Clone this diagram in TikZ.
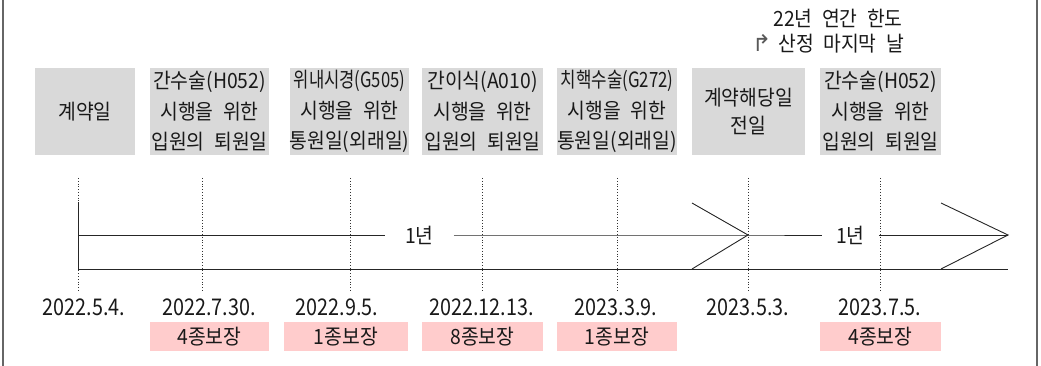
\documentclass[tikz,border=0pt]{standalone}
\usepackage{fontspec}
\newfontfamily\cjk[FakeStretch=0.92,WordSpace=2.2]{Noto Sans CJK KR}
\newfontfamily\cjkd[FakeStretch=0.86]{Noto Sans CJK KR}
\newfontfamily\symf{DejaVu Sans}
\definecolor{boxgray}{RGB}{217,217,217}
\definecolor{boxpink}{RGB}{255,204,204}
\definecolor{ink}{RGB}{25,25,25}
\begin{document}
\begin{tikzpicture}[x=1pt,y=-1pt,
  txt/.style={font=\cjk\fontsize{21}{30.5}\selectfont, text=ink, inner sep=0pt, align=center},
  graybox/.style={txt, fill=boxgray, minimum height=87pt},
  pinkbox/.style={txt, fill=boxpink, minimum height=29pt},
  datelbl/.style={font=\cjkd\fontsize{23}{23}\selectfont, text=ink, inner sep=0pt},
  guide/.style={dotted, line width=0.8pt, black!80},
  tl/.style={line width=0.9pt, black!85},
  border/.style={line width=1.4pt, black!60}]
\useasboundingbox (0,0) rectangle (1041,366);
% frame sides
\draw[border] (3,0) -- (3,366);
\draw[border] (1037,0) -- (1037,366);
% top note
\node[txt] (note1) at (838,18) {22년 연간 한도};
\node[txt] (note2) at (828,44) {{\symf\fontsize{23}{23}\selectfont\color{black!65}↱}\hspace{7pt}산정 마지막 날};
% gray boxes
\node[graybox, minimum width=100pt] (b1) at (85,111.5) {계약일};
\node[graybox, minimum width=119pt] (b2) at (209.5,111.5) {간수술(H052)\\시행을 위한\\입원의 퇴원일};
\node[graybox, minimum width=117pt] (b3) at (349.5,111.5) {\scalebox{0.86}[1]{위내시경(G505)}\\시행을 위한\\통원일(외래일)};
\node[graybox, minimum width=121pt] (b4) at (482.5,111.5) {간이식(A010)\\시행을 위한\\입원의 퇴원일};
\node[graybox, minimum width=120pt] (b5) at (617,111.5) {\scalebox{0.87}[1]{치핵수술(G272)}\\시행을 위한\\통원일(외래일)};
\node[graybox, minimum width=113pt, font=\cjk\fontsize{21}{28}\selectfont] (b6) at (748.5,111.5) {계약해당일\\전일};
\node[graybox, minimum width=121pt] (b7) at (880.5,111.5) {간수술(H052)\\시행을 위한\\입원의 퇴원일};
% guide coordinates
\foreach \n/\x in {1/78,2/202,3/350,4/482,5/617,6/748,7/880}{
  \coordinate (gt\n) at (\x,178);
  \coordinate (gb\n) at (\x,291);
}
\foreach \n in {1,...,7}{ \draw[guide] (gt\n) -- (gb\n); }
% timeline
\coordinate (s0) at (78,202);
\coordinate (s1) at (78,269);
\coordinate (u0) at (78,235);
\coordinate (tip1) at (748,235);
\coordinate (tip2) at (1008,235);
\coordinate (e1) at (1008,269);
\coordinate (c1a) at (692,203);
\coordinate (c1b) at (692,269);
\coordinate (c2a) at (941,203);
\coordinate (c2b) at (941,269);
\node[txt, fill=white] (y1) at (419.5,235) {\hspace*{20pt}1년\hspace*{20pt}};
\node[txt, fill=white] (y2) at (850.5,235) {\hspace*{14pt}1년\hspace*{14pt}};
\draw[tl] (s0) -- (s1) -- (e1);
\draw[tl] (u0) -- (y1.west);
\draw[tl] (y1.east) -- (tip1) -- (y2.west);
\draw[tl] (y2.east) -- (tip2);
\draw[tl] (c1a) -- (tip1) -- (c1b);
\draw[tl] (c2a) -- (tip2) -- (c2b);
% dates
\node[datelbl] (d1) at (84,307) {2022.5.4.};
\node[datelbl] (d2) at (209,307) {2022.7.30.};
\node[datelbl] (d3) at (337,307) {2022.9.5.};
\node[datelbl] (d4) at (481.5,307) {2022.12.13.};
\node[datelbl] (d5) at (616,307) {2023.3.9.};
\node[datelbl] (d6) at (748,307) {2023.5.3.};
\node[datelbl] (d7) at (880,307) {2023.7.5.};
% pink boxes
\node[pinkbox, minimum width=119pt] (p1) at (209.5,336.5) {4종보장};
\node[pinkbox, minimum width=124pt] (p2) at (346,336.5) {1종보장};
\node[pinkbox, minimum width=121pt] (p3) at (482.5,336.5) {8종보장};
\node[pinkbox, minimum width=120pt] (p4) at (617,336.5) {1종보장};
\node[pinkbox, minimum width=121pt] (p5) at (880.5,336.5) {4종보장};
\end{tikzpicture}
\end{document}
